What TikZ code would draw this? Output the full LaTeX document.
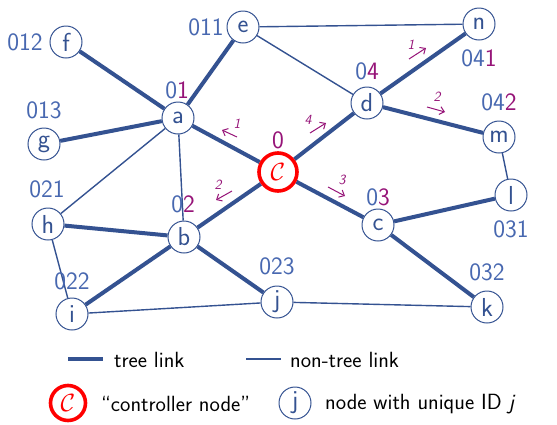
\documentclass[tikz,border=0pt]{standalone}
\usetikzlibrary{arrows.meta}
\definecolor{nodeblue}{RGB}{52,82,145}
\definecolor{linkblue}{RGB}{52,82,145}
\definecolor{lblblue}{RGB}{72,104,176}
\definecolor{idpurple}{RGB}{150,20,120}
\newcommand{\pp}[1]{{\color{idpurple}#1}}
\pgfdeclarelayer{links}
\pgfsetlayers{links,main}
\begin{document}
\begin{tikzpicture}[x=1pt,y=-1pt,
  vtx/.style={circle, draw=nodeblue, line width=1pt, fill=white, minimum size=32pt,
    inner sep=0pt, text=nodeblue, font=\fontsize{26}{26}\selectfont\sffamily},
  ctrl/.style={circle, draw=red, line width=3.6pt, fill=white, minimum size=38pt,
    inner sep=0pt, text=red, font=\fontsize{26}{26}\selectfont},
  tree/.style={draw=linkblue, line width=4pt},
  nontree/.style={draw=linkblue, line width=1.4pt},
  lbl/.style={text=lblblue, inner sep=0pt, font=\fontsize{25}{25}\selectfont\sffamily},
  hop/.style={draw=idpurple, line width=1pt, -{Straight Barb[length=4.5pt,width=8pt]}},
  hopnum/.style={text=idpurple, inner sep=0pt, font=\fontsize{14}{14}\selectfont\sffamily\itshape},
  legend/.style={text=black, inner sep=0pt, anchor=west, font=\fontsize{22}{22}\selectfont\sffamily}]
\useasboundingbox (0,0) rectangle (557,424);

% vertices
\node[vtx] (e) at (243,27) {e};
\node[vtx] (f) at (66,42) {f};
\node[vtx] (n) at (479,24) {n};
\node[vtx] (a) at (178,118) {a};
\node[vtx] (g) at (44,144) {g};
\node[vtx] (d) at (367,103) {d};
\node[vtx] (m) at (499,137) {m};
\node[ctrl] (C) at (278,172) {$\mathcal{C}$};
\node[vtx] (l) at (511,195) {l};
\node[vtx] (h) at (48,224) {h};
\node[vtx] (b) at (184,237) {b};
\node[vtx] (c) at (378,225) {c};
\node[vtx] (j) at (277,302) {j};
\node[vtx] (i) at (72,314) {i};
\node[vtx] (k) at (487,307) {k};

% links, on the layer behind the vertices
\begin{pgfonlayer}{links}
\path[nontree] (e) -- (n) (e) -- (d) (a) -- (h) (a) -- (b) (h) -- (i)
  (i) -- (j) (j) -- (k) (m) -- (l);
\path[tree] (a) -- (f) (a) -- (e) (a) -- (g) (C) -- (a) (C) -- (d) (d) -- (n)
  (d) -- (m) (C) -- (c) (c) -- (l) (c) -- (k) (C) -- (b) (b) -- (h) (b) -- (i) (b) -- (j);
\end{pgfonlayer}

% identifiers
\node[lbl] (le) at (206,27) {011};
\node[lbl] (lf) at (25,42) {012};
\node[lbl] (la) at (177,90) {0\pp{1}};
\node[lbl] (lg) at (44,110) {013};
\node[lbl] (ld) at (367,71) {0\pp{4}};
\node[lbl] (ln) at (479,58) {04\pp{1}};
\node[lbl] (lm) at (499,102) {04\pp{2}};
\node[lbl] (lh) at (47,189) {021};
\node[lbl] (lb) at (183,204) {0\pp{2}};
\node[lbl] (li) at (72,281) {022};
\node[lbl] (lj) at (277,266) {023};
\node[lbl] (lc) at (378,197) {0\pp{3}};
\node[lbl] (ll) at (511,229) {031};
\node[lbl] (lk) at (487,272) {032};
\node[lbl, text=idpurple] (lC) at (278,140) {0};

% port numbers along the tree links
\coordinate (p1s) at (237,137); \coordinate (p1e) at (222,130);
\draw[hop] (p1s) -- (p1e);
\node[hopnum] (n1) at (237,124) {1};
\coordinate (p4s) at (310,133); \coordinate (p4e) at (326,123);
\draw[hop] (p4s) -- (p4e);
\node[hopnum] (n4) at (308,120) {4};
\coordinate (p2s) at (232,191); \coordinate (p2e) at (216,200);
\draw[hop] (p2s) -- (p2e);
\node[hopnum] (n2) at (218,185) {2};
\coordinate (p3s) at (328,187); \coordinate (p3e) at (345,196);
\draw[hop] (p3s) -- (p3e);
\node[hopnum] (n3) at (342,180) {3};
\coordinate (q1s) at (409,59); \coordinate (q1e) at (426,48);
\draw[hop] (q1s) -- (q1e);
\node[hopnum] (m1) at (411,45) {1};
\coordinate (q2s) at (427,107); \coordinate (q2e) at (445,112);
\draw[hop] (q2s) -- (q2e);
\node[hopnum] (m2) at (437,97) {2};

% legend
\coordinate (t1) at (68,359); \coordinate (t2) at (103,359);
\draw[tree] (t1) -- (t2);
\node[legend] (tl) at (114,360) {tree link};
\coordinate (u1) at (246,359); \coordinate (u2) at (281,359);
\draw[nontree] (u1) -- (u2);
\node[legend] (ul) at (290,360) {non-tree link};
\node[ctrl, minimum size=35pt] (lgC) at (68,403) {$\mathcal{C}$};
\node[legend] (cl) at (101,404) {``controller node''};
\node[vtx] (lgj) at (295,403) {j};
\node[legend] (jl) at (325,404) {node with unique ID \textit{j}};
\end{tikzpicture}
\end{document}
